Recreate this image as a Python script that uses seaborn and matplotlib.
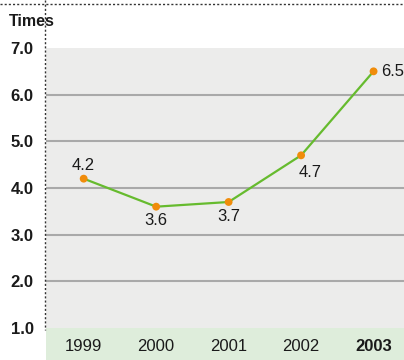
import matplotlib
matplotlib.use("Agg")
import matplotlib.pyplot as plt
import seaborn as sns
import pandas as pd
from matplotlib.lines import Line2D

years = ["1999", "2000", "2001", "2002", "2003"]
values = [4.2, 3.6, 3.7, 4.7, 6.5]
value_labels = ["4.2", "3.6", "3.7", "4.7", "6.5"]
y_ticks = [1.0, 2.0, 3.0, 4.0, 5.0, 6.0, 7.0]
unit_label = "Times"

df = pd.DataFrame({"x": range(len(years)), "value": values})

sns.set_style("white")
plt.rcParams['font.family'] = ['Liberation Sans', 'DejaVu Sans']

W, H = 404, 360
fig = plt.figure(figsize=(W / 100, H / 100), dpi=100)

# axes: left edge at x=46px, top at 7.0 (y=48px), runs down to the bottom of figure
ax = fig.add_axes([46 / W, 0, 1 - 46 / W, 1 - 48 / H])
px_per_unit = (328 - 48) / 6.0
ymin = 1.0 - (H - 328) / px_per_unit
ax.set_ylim(ymin, 7.0)
ax.set_xlim(-0.52, 4.42)
ax.set_facecolor("#ececeb")

# green band for year labels
ax.axhspan(ymin, 1.0, color="#deeddb", zorder=1, lw=0)

for t in y_ticks[1:-1]:
    ax.axhline(t, color="#a9a9a9", lw=1.5, zorder=2)

sns.lineplot(data=df, x="x", y="value", ax=ax, color="#66bb2e", lw=1.6,
             zorder=3, legend=False)
sns.scatterplot(data=df, x="x", y="value", ax=ax, color="#f08c0a",
                s=32, edgecolor="none", zorder=4, legend=False)

offsets = [(0, 0.28, "center"), (0, -0.3, "center"), (0, -0.32, "center"),
           (0.12, -0.36, "center"), (0.1, 0.0, "left")]
for i, (lab, (dx, dy, ha)) in enumerate(zip(value_labels, offsets)):
    ax.text(i + dx, values[i] + dy, lab, ha=ha, va="center", fontsize=12,
            color="#1a1a1a", zorder=5)

label_y = ymin + (1.0 - ymin) * 0.42
for i, yr in enumerate(years):
    ax.text(i, label_y, yr, ha="center", va="center", fontsize=12,
            color="#1a1a1a", fontweight="bold" if i == len(years) - 1 else "normal")

ax.set_yticks(y_ticks)
ax.set_yticklabels([f"{t:.1f}" for t in y_ticks], fontsize=12,
                   fontweight="bold", color="#1a1a1a")
ax.tick_params(axis="y", length=0, pad=9)
ax.set_xticks([])
ax.set_xlabel("")
ax.set_ylabel("")
for s in ax.spines.values():
    s.set_visible(False)

# dotted guide lines
fig.add_artist(Line2D([0, 1], [1 - 4 / H, 1 - 4 / H], color="#333333", lw=1,
                      ls=(0, (1.5, 1.5)), transform=fig.transFigure))
fig.add_artist(Line2D([45 / W, 45 / W], [1 - 0 / H, 1 - 330 / H], color="#333333",
                      lw=1, ls=(0, (1.5, 1.5)), transform=fig.transFigure))

fig.text(9 / W, 1 - 22 / H, unit_label, ha="left", va="center", fontsize=11.5,
         fontweight="bold", color="#1a1a1a")

fig.savefig("out.png", dpi=100)
